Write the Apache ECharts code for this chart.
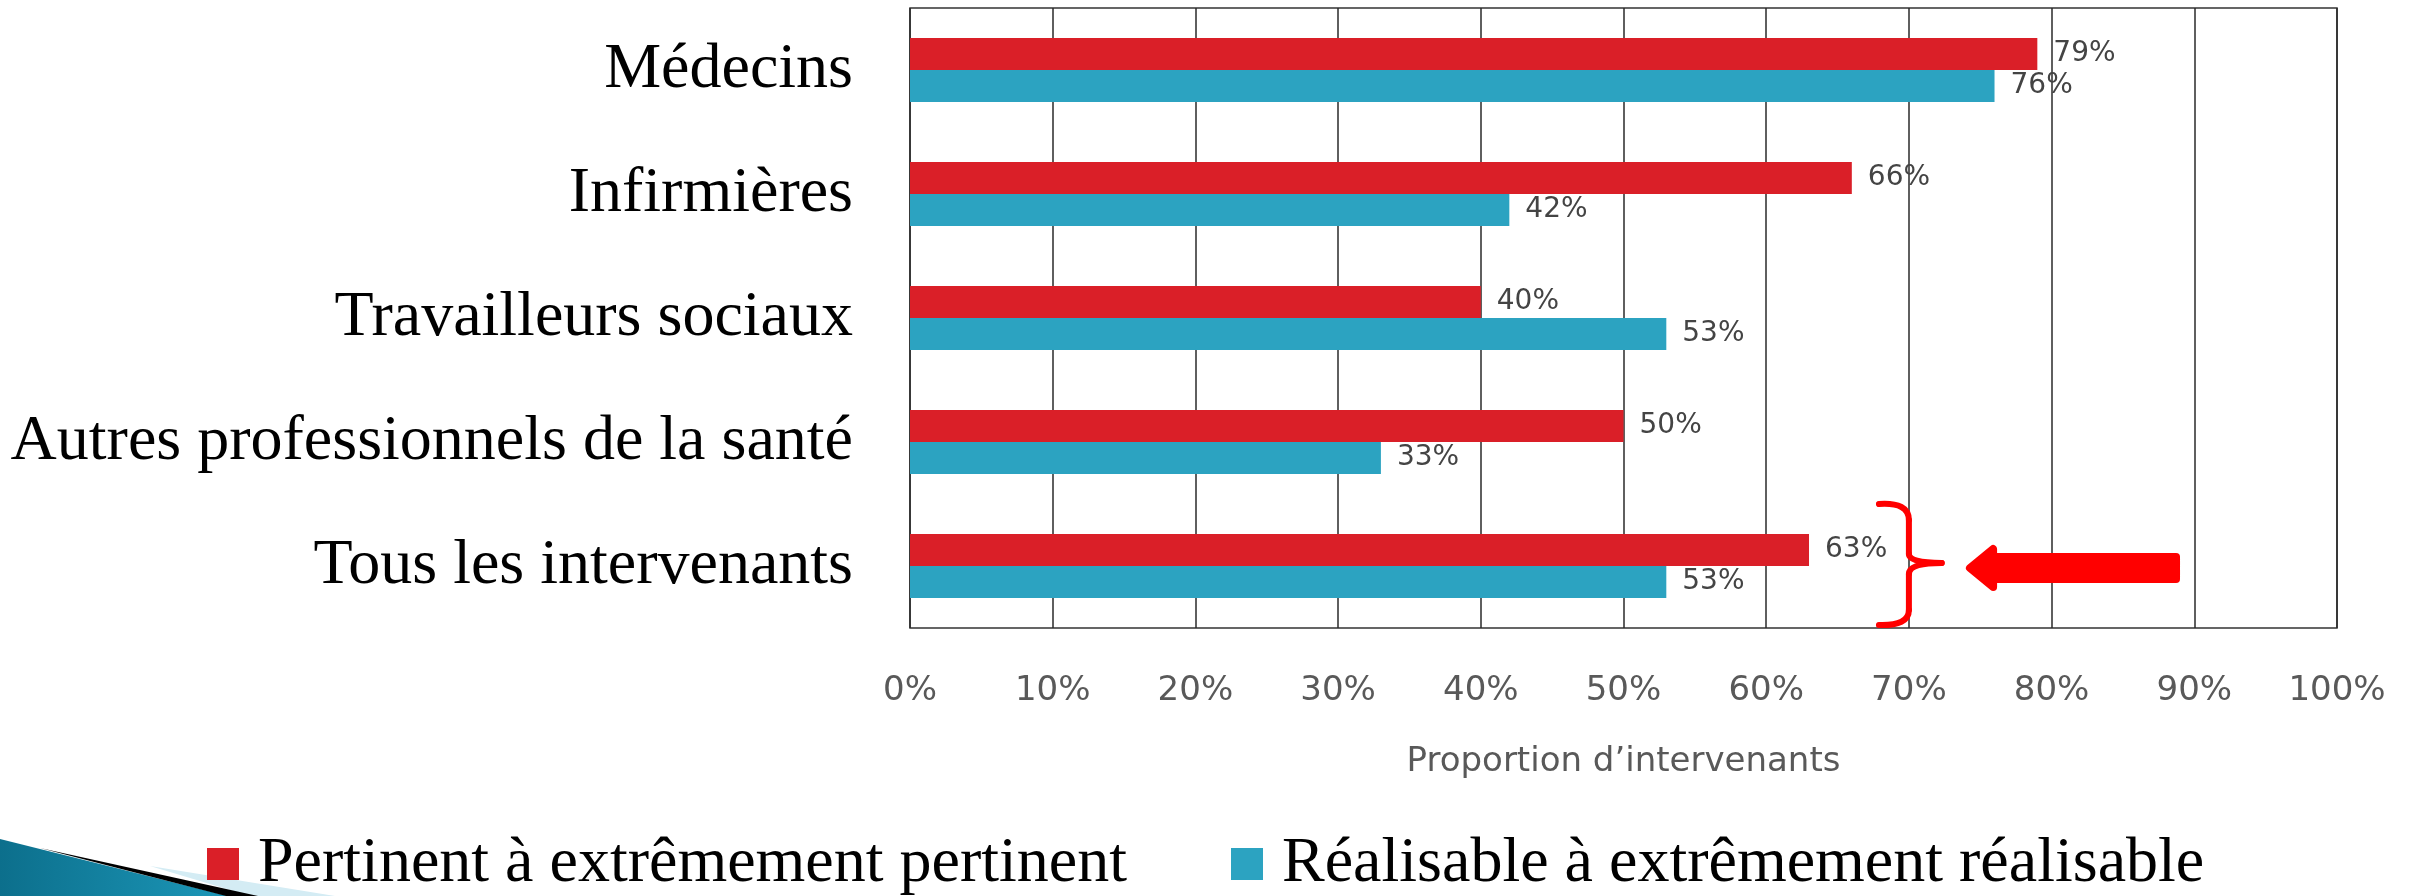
<!DOCTYPE html>
<html>
<head>
<meta charset="utf-8">
<script src="https://cdn.jsdelivr.net/npm/echarts@6/dist/echarts.min.js"></script>
<style>
  html, body { margin: 0; padding: 0; background: #ffffff; }
  #chart { width: 2420px; height: 896px; }
</style>
</head>
<body>
<div id="chart"></div>
<script>
// Professional groups (top to bottom)
const categories = [
  'Médecins',
  'Infirmières',
  'Travailleurs sociaux',
  'Autres professionnels de la santé',
  'Tous les intervenants'
];
// Share of respondents, in %
const pertinent = [79, 66, 40, 50, 63];
const realisable = [76, 42, 53, 33, 53];
const seriesNames = ['Pertinent à extrêmement pertinent', 'Réalisable à extrêmement réalisable'];
const axisTitle = 'Proportion d’intervenants';

const RED = '#DA1F28';
const BLUE = '#2CA3C1';
const NUM_FONT = '"DejaVu Sans", Verdana, sans-serif';
const SERIF = '"Liberation Serif", "Times New Roman", serif';

const chart = echarts.init(document.getElementById('chart'), null, { renderer: 'canvas' });

const barLabel = {
  show: true,
  position: 'right',
  distance: 16,
  formatter: '{c}%',
  color: '#444444',
  fontFamily: NUM_FONT,
  fontSize: 28
};

chart.setOption({
  animation: false,
  backgroundColor: '#ffffff',
  grid: {
    left: 910, right: 83, top: 8, bottom: 268,
    show: true,
    borderColor: '#333333',
    borderWidth: 1.5,
    backgroundColor: 'transparent'
  },
  legend: {
    left: 207,
    top: 832,
    padding: 0,
    itemWidth: 32,
    itemHeight: 32,
    itemGap: 104,
    icon: 'rect',
    textStyle: {
      fontFamily: SERIF,
      fontSize: 64,
      color: '#000000',
      lineHeight: 64,
      padding: [0, 0, 0, 14]
    },
    data: seriesNames
  },
  xAxis: {
    type: 'value',
    min: 0, max: 100, interval: 10,
    axisLine: { show: false },
    axisTick: { show: false },
    splitLine: { show: true, lineStyle: { color: '#2a2a2a', width: 1.5 } },
    axisLabel: {
      formatter: '{value}%',
      color: '#595959',
      fontFamily: NUM_FONT,
      fontSize: 34,
      margin: 46
    },
    name: axisTitle,
    nameLocation: 'middle',
    nameGap: 117,
    nameTextStyle: {
      color: '#595959',
      fontFamily: NUM_FONT,
      fontSize: 34
    }
  },
  yAxis: {
    type: 'category',
    inverse: true,
    data: categories,
    axisLine: { show: false },
    axisTick: { show: false },
    splitLine: { show: false },
    axisLabel: {
      color: '#000000',
      fontFamily: SERIF,
      fontSize: 64,
      margin: 57,
      padding: [8, 0, 0, 0]
    }
  },
  series: [
    {
      name: seriesNames[0],
      type: 'bar',
      data: pertinent,
      barWidth: 32,
      barGap: '0%',
      itemStyle: { color: RED },
      label: barLabel
    },
    {
      name: seriesNames[1],
      type: 'bar',
      data: realisable,
      barWidth: 32,
      barGap: '0%',
      itemStyle: { color: BLUE },
      label: barLabel
    }
  ]
});

// Highlight for the "all respondents" row: a curly brace and a left-pointing arrow,
// placed with the chart's own coordinate conversion.
const lastCat = categories[categories.length - 1];
const px = (v) => chart.convertToPixel({ gridIndex: 0 }, [v, lastCat]);
const mid = px(0)[1];
const braceX = px(70)[0];
const braceEnd = px(67.9)[0];
const nubX = px(72.3)[0];
const tipX = px(74.0)[0];
const headX = px(75.9)[0];
const tailX = px(89.0)[0];
const ANNO = '#FF0000';
const braceStyle = { stroke: ANNO, lineWidth: 6, fill: null, lineCap: 'round' };
const ay = mid + 2;

chart.setOption({
  graphic: [
    // brace: upper arm
    { type: 'bezierCurve', shape: { x1: braceEnd, y1: mid - 62, cpx1: braceX, cpy1: mid - 64, x2: braceX, y2: mid - 46 }, style: braceStyle, z: 100 },
    { type: 'line', shape: { x1: braceX, y1: mid - 46, x2: braceX, y2: mid - 12 }, style: braceStyle, z: 100 },
    { type: 'bezierCurve', shape: { x1: braceX, y1: mid - 12, cpx1: braceX, cpy1: mid - 3, x2: nubX, y2: mid - 3 }, style: braceStyle, z: 100 },
    // brace: lower arm
    { type: 'bezierCurve', shape: { x1: nubX, y1: mid - 3, cpx1: braceX, cpy1: mid - 3, x2: braceX, y2: mid + 8 }, style: braceStyle, z: 100 },
    { type: 'line', shape: { x1: braceX, y1: mid + 8, x2: braceX, y2: mid + 44 }, style: braceStyle, z: 100 },
    { type: 'bezierCurve', shape: { x1: braceX, y1: mid + 44, cpx1: braceX, cpy1: mid + 60, x2: braceEnd, y2: mid + 59 }, style: braceStyle, z: 100 },
    // arrow
    {
      type: 'polygon',
      shape: { points: [
        [tipX + 4, ay],
        [headX, ay - 19],
        [headX, ay - 11],
        [tailX - 4, ay - 11],
        [tailX - 4, ay + 11],
        [headX, ay + 11],
        [headX, ay + 19]
      ] },
      style: { fill: ANNO, stroke: ANNO, lineWidth: 8, lineJoin: 'round' },
      z: 100
    },
    // slide corner ornament, bottom left
    {
      type: 'polygon',
      shape: { points: [[150, 866], [335, 896], [250, 896]] },
      style: { fill: '#D4ECF4' }, z: 1
    },
    {
      type: 'polygon',
      shape: { points: [[0, 839], [228, 896], [0, 896]] },
      style: {
        fill: new echarts.graphic.LinearGradient(0, 0, 1, 0, [
          { offset: 0, color: '#0C6F8C' },
          { offset: 1, color: '#1C97B8' }
        ])
      }, z: 2
    },
    {
      type: 'polygon',
      shape: { points: [[40, 848], [258, 896], [226, 896]] },
      style: { fill: '#000000' }, z: 3
    }
  ]
});
</script>
</body>
</html>
